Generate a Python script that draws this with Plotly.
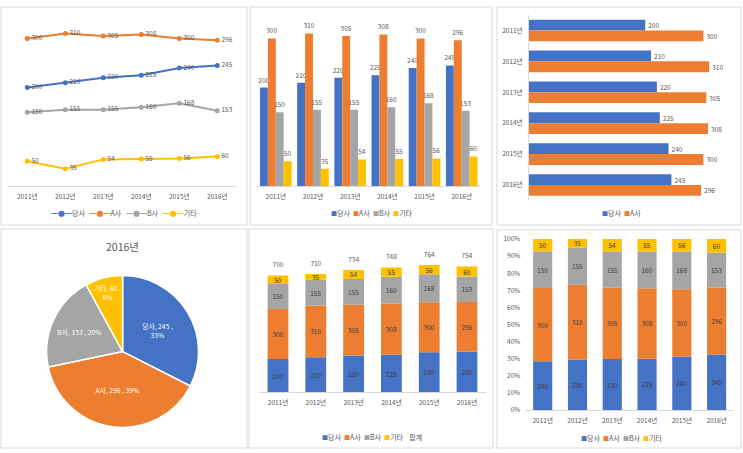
import plotly.graph_objects as go

W, H = 743, 453

def X(px):
    return px / W

def Y(py):
    return 1 - py / H

# ---------------- data ----------------
years = ["2011년", "2012년", "2013년", "2014년", "2015년", "2016년"]
dangsa = [200, 210, 220, 225, 240, 245]
a_sa = [300, 310, 305, 308, 300, 296]
b_sa = [150, 155, 155, 160, 168, 153]
gita = [50, 35, 54, 55, 56, 60]
series_names = ["당사", "A사", "B사", "기타"]
total_name = "합계"
pie_title = "2016년"
pie_pct_labels = ["33%", "39%", "20%", "8%"]   # as printed on the pie
pct_ticks = [0, 10, 20, 30, 40, 50, 60, 70, 80, 90, 100]

series_vals = [dangsa, a_sa, b_sa, gita]
colors = ["#4472C4", "#ED7D31", "#A5A5A5", "#FFC000"]
totals = [sum(v) for v in zip(*series_vals)]

FONT = "Noto Sans CJK KR, Noto Sans, sans-serif"
GRAY = "#595959"
DARK = "#404040"
LINE = "#d9d9d9"
FS = 6.5

fig = go.Figure()

# ---------- Panel 1: line chart ----------
for name, vals, col in zip(series_names, series_vals, colors):
    fig.add_trace(go.Scatter(
        x=years, y=vals, name=name, mode="lines+markers+text",
        line=dict(color=col, width=2), marker=dict(color=col, size=5),
        text=[str(v) for v in vals], textposition="middle right",
        textfont=dict(size=FS, color=GRAY, family=FONT),
        xaxis="x", yaxis="y", showlegend=False, cliponaxis=False))

# ---------- Panel 2: clustered columns ----------
bw2 = 0.2125
for i, (name, vals, col) in enumerate(zip(series_names, series_vals, colors)):
    fig.add_trace(go.Bar(
        x=years, y=vals, name=name, marker=dict(color=col, line=dict(width=0)),
        width=bw2, offset=-2 * bw2 + i * bw2,
        text=[str(v) for v in vals], textposition="outside", textangle=0,
        constraintext="none", cliponaxis=False,
        textfont=dict(size=FS, color=GRAY, family=FONT),
        xaxis="x2", yaxis="y2", showlegend=False))

# ---------- Panel 3: horizontal bars ----------
bw3 = 0.35
for i, (name, vals, col) in enumerate(zip(series_names[:2], series_vals[:2], colors[:2])):
    fig.add_trace(go.Bar(
        y=years, x=vals, orientation="h", name=name,
        marker=dict(color=col, line=dict(width=0)),
        width=bw3, offset=-bw3 + i * bw3,
        text=[str(v) for v in vals], textposition="outside", textangle=0,
        constraintext="none", cliponaxis=False,
        textfont=dict(size=FS, color=GRAY, family=FONT),
        xaxis="x3", yaxis="y3", showlegend=False))

# ---------- Panel 4: pie ----------
pie_vals = [v[-1] for v in series_vals]
fig.add_trace(go.Pie(
    labels=series_names, values=pie_vals, text=pie_pct_labels,
    sort=False, direction="clockwise",
    rotation=0, marker=dict(colors=colors, line=dict(color="white", width=1.5)),
    texttemplate=["%{label}, %{value} ,<br>%{text}",
                  "%{label}, %{value} , %{text}",
                  "%{label}, %{value} , %{text}",
                  "%{label}, %{value} ,<br>%{text}"],
    textposition="inside", insidetextorientation="horizontal",
    textfont=dict(size=6.8, color="white", family=FONT),
    domain=dict(x=[X(44.5), X(200.7)], y=[Y(431), Y(275.7)]),
    showlegend=False, hoverinfo="skip"))

# ---------- Panel 5: stacked columns ----------
base = [0] * len(years)
for name, vals, col in zip(series_names, series_vals, colors):
    fig.add_trace(go.Bar(
        x=years, y=vals, base=base[:], name=name,
        marker=dict(color=col, line=dict(width=0)),
        width=0.55, offset=-0.275,
        text=[str(v) for v in vals], textposition="inside", insidetextanchor="middle",
        textangle=0, constraintext="none",
        textfont=dict(size=FS, color=DARK, family=FONT),
        xaxis="x5", yaxis="y5", showlegend=False))
    base = [b + v for b, v in zip(base, vals)]
fig.add_trace(go.Scatter(
    x=years, y=totals, name=total_name, mode="markers+text",
    marker=dict(size=9, color="rgba(0,0,0,0)"),
    text=[str(t) for t in totals], textposition="top center",
    textfont=dict(size=FS, color=GRAY, family=FONT),
    xaxis="x5", yaxis="y5", showlegend=False, cliponaxis=False, hoverinfo="skip"))

# ---------- Panel 6: 100% stacked columns ----------
base = [0.0] * len(years)
for name, vals, col in zip(series_names, series_vals, colors):
    pct = [v / t * 100 for v, t in zip(vals, totals)]
    fig.add_trace(go.Bar(
        x=years, y=pct, base=base[:], name=name,
        marker=dict(color=col, line=dict(width=0)),
        width=0.55, offset=-0.275,
        text=[str(v) for v in vals], textposition="inside", insidetextanchor="middle",
        textangle=0, constraintext="none",
        textfont=dict(size=FS, color=DARK, family=FONT),
        xaxis="x6", yaxis="y6", showlegend=False))
    base = [b + p for b, p in zip(base, pct)]

tickfont = dict(size=FS, color=GRAY, family=FONT)
cat_x = dict(type="category", range=[-0.5, 5.5], showline=True, linecolor=LINE,
             linewidth=1, ticks="", showgrid=False, zeroline=False,
             tickfont=tickfont, ticklabelstandoff=4, fixedrange=True)
hidden = dict(visible=False, fixedrange=True)

fig.update_layout(
    width=W, height=H, autosize=False,
    margin=dict(l=0, r=0, t=0, b=0),
    paper_bgcolor="white", plot_bgcolor="rgba(0,0,0,0)",
    font=dict(family=FONT, color=GRAY, size=FS),
    barmode="group", showlegend=False,
    uniformtext=dict(minsize=6.5, mode="show"),
    xaxis=dict(cat_x, domain=[X(8.3), X(236.3)], anchor="y"),
    yaxis=dict(hidden, domain=[Y(184), Y(8)], range=[0, 350], anchor="x"),
    xaxis2=dict(cat_x, domain=[X(257.2), X(480.3)], anchor="y2"),
    yaxis2=dict(hidden, domain=[Y(184), Y(8)], range=[0, 350], anchor="x2"),
    xaxis3=dict(hidden, domain=[X(528.9), X(732.5)], range=[0, 350], anchor="y3"),
    yaxis3=dict(type="category", range=[5.5, -0.5], domain=[Y(198.8), Y(9.2)],
                anchor="x3", showline=True, linecolor=LINE, ticks="",
                showgrid=False, zeroline=False, tickfont=tickfont,
                ticklabelstandoff=4, fixedrange=True),
    xaxis5=dict(cat_x, domain=[X(259.1), X(485.9)], anchor="y5"),
    yaxis5=dict(hidden, domain=[Y(395), Y(241.6)], range=[0, 900], anchor="x5"),
    xaxis6=dict(cat_x, domain=[X(525.3), X(734)], anchor="y6"),
    yaxis6=dict(domain=[Y(413.3), Y(238.3)], range=[0, 100], anchor="x6",
                tickvals=pct_ticks, ticktext=[f"{t}%" for t in pct_ticks],
                showgrid=False, zeroline=False, showline=False, ticks="",
                tickfont=tickfont, ticklabelstandoff=4, fixedrange=True),
)

# panel borders
for (x0, y0, x1, y1) in [(1, 1, 247, 224), (250, 1, 492, 224), (497, 1, 741, 224),
                         (1, 228, 247, 452), (249, 228, 493, 452), (497, 229, 741, 452)]:
    fig.add_shape(type="rect", xref="paper", yref="paper",
                  x0=X(x0), x1=X(x1), y0=Y(y1), y1=Y(y0),
                  line=dict(color=LINE, width=1), fillcolor="rgba(0,0,0,0)", layer="below")

def sq(col):
    return f'<span style="color:{col};font-size:6px">■</span>'

def ln(col):
    return f'<span style="color:{col};font-size:7px">━●━</span>'

leg_line = "   ".join(f"{ln(c)}{n}" for n, c in zip(series_names, colors))
leg_sq4 = "  ".join(f"{sq(c)}{n}" for n, c in zip(series_names, colors))
leg_sq2 = "  ".join(f"{sq(c)}{n}" for n, c in zip(series_names[:2], colors[:2]))
leg_tot = leg_sq4 + "    " + total_name

ann = [
    (124, 212, leg_line), (371.5, 212, leg_sq4), (621.5, 212, leg_sq2),
    (372, 441, leg_tot), (621.5, 441.5, leg_sq4),
]
for x, y, t in ann:
    fig.add_annotation(x=X(x), y=Y(y), xref="paper", yref="paper", text=t,
                       showarrow=False, xanchor="center", yanchor="middle",
                       font=dict(size=7, color=GRAY, family=FONT))
fig.add_annotation(x=X(122.5), y=Y(246), xref="paper", yref="paper", text=pie_title,
                   showarrow=False, xanchor="center", yanchor="middle",
                   font=dict(size=10.5, color=GRAY, family=FONT))

fig.write_html("out.html")
